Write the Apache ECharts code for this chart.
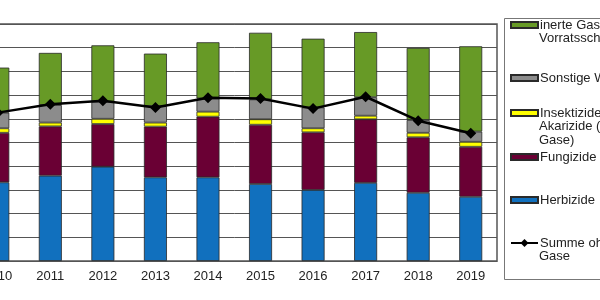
<!DOCTYPE html>
<html>

<head>
    <meta charset="utf-8">
    <script src="https://cdn.jsdelivr.net/npm/echarts@6/dist/echarts.min.js"></script>
    <style type="text/css">
        html, body { margin: 0; padding: 0; background: #fff; overflow: hidden; }
        /* Ausschnitt: Diagramm beginnt links ausserhalb des Bildes */
        #main { position: absolute; left: -29px; top: 0; width: 629px; height: 300px; }
    </style>
</head>

<body>
    <div id="main"></div>
    <script>
        // Jahre und Absatz in Tonnen
        var years = ['2010', '2011', '2012', '2013', '2014', '2015', '2016', '2017', '2018', '2019'];
        var herbizide = [16600, 18000, 19900, 17650, 17650, 16250, 15000, 16500, 14400, 13550];
        var fungizide = [10450, 10400, 9000, 10700, 12800, 12500, 12150, 13400, 11700, 10550];
        var insektizide = [950, 800, 1100, 850, 1050, 1150, 850, 750, 950, 1050];
        var sonstige = [3300, 3700, 3600, 3500, 2800, 4200, 4400, 3900, 2700, 2150];
        var inerteGase = [9500, 11000, 11900, 11050, 11850, 14050, 14500, 13750, 15200, 18000];
        var summe = [31300, 33050, 33800, 32400, 34450, 34300, 32150, 34650, 29600, 26950];

        var font = 'Liberation Sans, Arial, sans-serif';
        var dx = 29; // Verschiebung des Diagramms nach links
        var names = {
            inert: 'inerte Gase im Vorratsschutz',
            sonst: 'Sonstige Wirkstoffe',
            insekt: 'Insektizide und Akarizide (ohne inerte Gase)',
            fung: 'Fungizide',
            herb: 'Herbizide',
            summe: 'Summe ohne inerte Gase'
        };
        // erste Zeile im Legendeneintrag, Rest als Text darunter
        var firstLine = {};
        firstLine[names.inert] = 'inerte Gase im';
        firstLine[names.insekt] = 'Insektizide und';
        firstLine[names.summe] = 'Summe ohne inerte';

        function legendAt(name, iconY, h) {
            h = h || 6;
            return {
                data: [name],
                left: 510 + dx,
                top: iconY - 6,
                padding: 0,
                itemWidth: 27,
                itemHeight: h,
                icon: name === names.summe ? undefined : 'rect',
                formatter: function (n) { return firstLine[n] || n; },
                textStyle: { fontFamily: font, fontSize: 13, color: '#222', lineHeight: 14, padding: [0, 0, 0, -3] }
            };
        }

        function extraText(txt, y) {
            return {
                type: 'text', left: 539 + dx, top: y - 7,
                style: { text: txt, fontFamily: font, fontSize: 13, fill: '#222' }
            };
        }

        function barSeries(name, data, color) {
            return {
                name: name,
                type: 'bar',
                stack: 'abs',
                barWidth: 23,
                data: data,
                itemStyle: { color: color, borderColor: '#2a2a2a', borderWidth: 0.8 }
            };
        }

        var myChart = echarts.init(document.getElementById('main'));
        var option = {
            animation: false,
            grid: {
                left: 0.5, right: 103, top: 24, bottom: 39,
                show: true, borderColor: '#555', borderWidth: 1.5
            },
            legend: [
                legendAt(names.inert, 24),
                legendAt(names.sonst, 77),
                legendAt(names.insekt, 112),
                legendAt(names.fung, 156),
                legendAt(names.herb, 199),
                legendAt(names.summe, 242, 10)
            ],
            graphic: [
                {
                    type: 'rect', left: 502 + dx, top: 16,
                    shape: { width: 130, height: 261 },
                    style: { fill: 'none', stroke: '#777', lineWidth: 1 }
                },
                extraText('Vorratsschutz', 39),
                extraText('Akarizide (ohne inerte', 127),
                extraText('Gase)', 141),
                extraText('Gase', 257)
            ],
            xAxis: {
                type: 'category',
                data: years,
                axisLine: { lineStyle: { color: '#555', width: 1 } },
                axisTick: { length: 4, lineStyle: { color: '#555' } },
                axisLabel: { fontFamily: font, fontSize: 13, color: '#222', margin: 9 }
            },
            yAxis: {
                type: 'value',
                min: 0,
                max: 50000,
                interval: 5000,
                axisLabel: { show: false },
                axisLine: { show: false },
                splitLine: { lineStyle: { color: '#555', width: 1 } }
            },
            series: [
                barSeries(names.herb, herbizide, '#1170be'),
                barSeries(names.fung, fungizide, '#6a0034'),
                barSeries(names.insekt, insektizide, '#ffff00'),
                barSeries(names.sonst, sonstige, '#8c8c8c'),
                barSeries(names.inert, inerteGase, '#679a26'),
                {
                    name: names.summe,
                    type: 'line',
                    z: 10,
                    data: summe,
                    symbol: 'diamond',
                    symbolSize: 11,
                    lineStyle: { color: '#000', width: 2.5 },
                    itemStyle: { color: '#000' }
                }
            ]
        };
        myChart.setOption(option);
    </script>
</body>

</html>
